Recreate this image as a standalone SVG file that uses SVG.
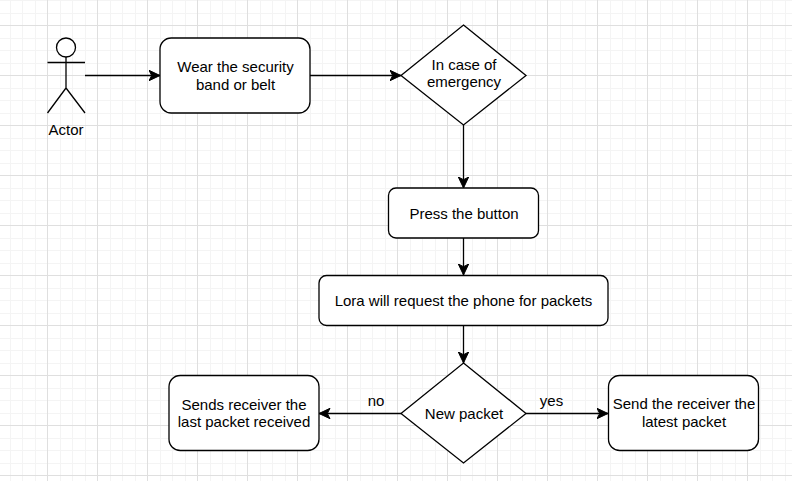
<svg xmlns="http://www.w3.org/2000/svg" width="792" height="481" viewBox="0 0 792 481">
<defs>
<pattern id="grid" x="47" y="25" width="50" height="50" patternUnits="userSpaceOnUse"><path d="M13.500 0V50M25.500 0V50M38.500 0V50M0 13.500H50M0 25.500H50M0 38.500H50" fill="none" stroke="#f4f4f4" stroke-width="1"/><path d="M0.500 0V50M0 0.500H50" fill="none" stroke="#dfdfdf" stroke-width="1"/></pattern>
<marker id="arrow" markerUnits="userSpaceOnUse" viewBox="0 0 12 12" refX="11.500" refY="6" markerWidth="12" markerHeight="12" orient="auto"><path d="M0.500 0.800L11.500 6L0.500 11.200L3.200 6Z" fill="#000" stroke="#000" stroke-width="1"/></marker>
</defs>
<style>
.shape{fill:#fff;stroke:#000;stroke-width:1.3}
.line{fill:none;stroke:#000;stroke-width:1.3}
text{font-family:"Liberation Sans",Arial,sans-serif;font-size:15px;fill:#000;text-anchor:middle}
</style>
<rect width="792" height="481" fill="#fff"/>
<rect width="792" height="481" fill="url(#grid)"/>
<g id="connectors">
<path class="line" marker-end="url(#arrow)" d="M85 75.500H160"/>
<path class="line" marker-end="url(#arrow)" d="M310 75.500H401"/>
<path class="line" marker-end="url(#arrow)" d="M463.500 125V188"/>
<path class="line" marker-end="url(#arrow)" d="M463.500 238V275"/>
<path class="line" marker-end="url(#arrow)" d="M463.500 325V363"/>
<path class="line" marker-end="url(#arrow)" d="M401 413.500H319"/>
<path class="line" marker-end="url(#arrow)" d="M526 413.500H608"/>
<text x="376" y="406">no</text>
<text x="551.500" y="406">yes</text>
</g>
<g id="actor">
<circle class="shape" cx="66" cy="47.500" r="9.500"/>
<path class="line" d="M66 57V88M47.500 62.500H85M66 88L47.500 113M66 88L85 113"/>
<text x="66" y="135">Actor</text>
</g>
<g id="wear">
<rect class="shape" x="160" y="38" width="150" height="75" rx="11.250"/>
<text x="235.500" y="72">Wear the security</text>
<text x="235.500" y="90">band or belt</text>
</g>
<g id="emergency">
<path class="shape" d="M463.500 25L526 75.500L463.500 125L401 75.500Z"/>
<text x="464" y="70">In case of</text>
<text x="464" y="87">emergency</text>
</g>
<g id="press">
<rect class="shape" x="388.500" y="188" width="150" height="50" rx="7.500"/>
<text x="464" y="219">Press the button</text>
</g>
<g id="lora">
<rect class="shape" x="319" y="275.500" width="289" height="50" rx="7.500"/>
<text x="463.500" y="306">Lora will request the phone for packets</text>
</g>
<g id="newpacket">
<path class="shape" d="M463.500 363L526 413.500L463.500 463L401 413.500Z"/>
<text x="464" y="419">New packet</text>
</g>
<g id="sendlast">
<rect class="shape" x="169" y="375.500" width="150" height="75" rx="11.250"/>
<text x="244" y="410">Sends receiver the</text>
<text x="244" y="427">last packet received</text>
</g>
<g id="sendlatest">
<rect class="shape" x="608.500" y="375.500" width="150" height="75" rx="11.250"/>
<text x="684" y="409">Send the receiver the</text>
<text x="684" y="427">latest packet</text>
</g>
</svg>
